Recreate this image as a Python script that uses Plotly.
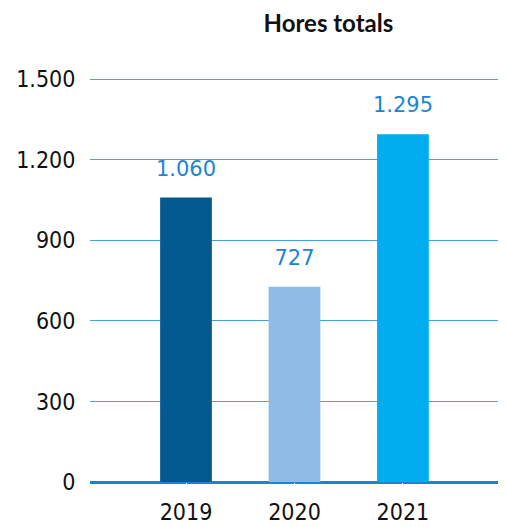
import plotly.graph_objects as go

years = ["2019", "2020", "2021"]
hours = [1060, 727, 1295]
value_labels = ["1.060", "727", "1.295"]
bar_colors = ["#035a91", "#8fbbe4", "#00adee"]
y_ticks = [0, 300, 600, 900, 1200, 1500]
y_tick_labels = ["0", "300", "600", "900", "1.200", "1.500"]

fig = go.Figure()
fig.add_trace(go.Bar(
    x=years, y=hours, marker=dict(color=bar_colors, line=dict(width=0)),
    width=0.477, hoverinfo="skip",
))
fig.add_trace(go.Scatter(
    x=years, y=hours, mode="markers+text", text=value_labels,
    textposition="top center",
    marker=dict(size=25, opacity=0),
    textfont=dict(family="DejaVu Sans", size=21, color="#1a86cf"),
    hoverinfo="skip", cliponaxis=False,
))

W, H = 506, 527
fig.update_layout(
    width=W, height=H,
    margin=dict(l=80, r=8, t=70, b=53),
    plot_bgcolor="white", paper_bgcolor="white",
    showlegend=False,
    title=dict(text="<b>Hores totals</b>", x=290 / W, xanchor="center", xref="paper",
               y=1 - 16 / H, yanchor="middle",
               font=dict(family="Lato", size=24, color="#111111")),
    xaxis=dict(type="category", range=[-0.885, 2.95], showgrid=False, showline=False,
               zeroline=False, ticks="outside", ticklen=9, tickcolor="white",
               tickfont=dict(family="DejaVu Sans Condensed", size=23, color="#111111")),
    yaxis=dict(range=[0, 1505], tickvals=y_ticks, ticktext=y_tick_labels,
               showgrid=True, gridcolor="#4aa0da", gridwidth=1,
               zeroline=True, zerolinecolor="#1a84cf", zerolinewidth=3,
               showline=False, layer="above traces",
               ticks="outside", ticklen=9, tickcolor="white",
               tickfont=dict(family="DejaVu Sans Condensed", size=23, color="#111111")),
)

fig.write_html("out.html")
